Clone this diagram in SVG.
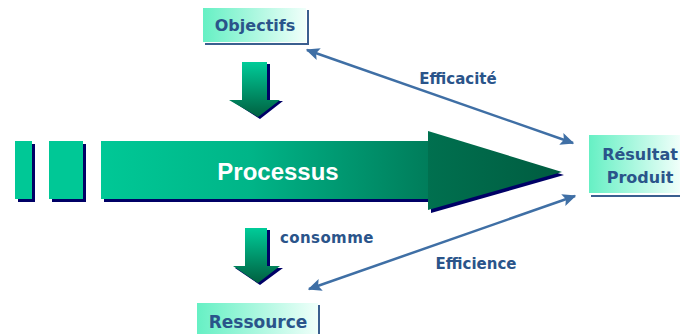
<svg xmlns="http://www.w3.org/2000/svg" width="680" height="334" viewBox="0 0 680 334">
<defs>
<linearGradient id="bodyG" x1="0" y1="0" x2="1" y2="0">
<stop offset="0" stop-color="#00c896"/>
<stop offset="0.45" stop-color="#00b588"/>
<stop offset="1" stop-color="#007c5a"/>
</linearGradient>
<linearGradient id="headG" x1="0" y1="0" x2="1" y2="0">
<stop offset="0" stop-color="#00704f"/>
<stop offset="1" stop-color="#005c40"/>
</linearGradient>
<linearGradient id="downG" x1="0" y1="0" x2="0" y2="1">
<stop offset="0" stop-color="#00cc99"/>
<stop offset="1" stop-color="#006040"/>
</linearGradient>
<linearGradient id="boxG" x1="0" y1="0" x2="1" y2="0">
<stop offset="0" stop-color="#66f0c4"/>
<stop offset="1" stop-color="#f0fffa"/>
</linearGradient>
<marker id="ah" viewBox="0 0 10 10" refX="9" refY="5" markerWidth="5.5" markerHeight="5.5" orient="auto-start-reverse" markerUnits="strokeWidth">
<path d="M0,0.5 L10,5 L0,9.5 L2,5 z" fill="#3f6fa5"/>
</marker>
</defs>
<style>
.lbl{font-family:"DejaVu Sans",Verdana,sans-serif;font-weight:bold;fill:#2a548a}
.conn{stroke:#3f6fa5;stroke-width:2.5;fill:none;marker-start:url(#ah);marker-end:url(#ah)}
.shadow{fill:#000066}
.edge{stroke:#3a5f8f;stroke-width:2;fill:none}
</style>
<rect width="680" height="334" fill="#ffffff"/>

<g id="process">
<rect class="shadow" x="18" y="144" width="17" height="58"/>
<rect x="15" y="141" width="17" height="58" fill="#00c896"/>
<rect class="shadow" x="52" y="144" width="34" height="58"/>
<rect x="49" y="141" width="34" height="58" fill="#00c896"/>
<path class="shadow" d="M104,144 L431,144 L431,134 L564,175 L431,213 L431,202 L104,202 z"/>
<rect x="101" y="141" width="330" height="58" fill="url(#bodyG)"/>
<path d="M428,131 L562,172 L428,210 z" fill="url(#headG)"/>
<text x="278" y="180" text-anchor="middle" font-family="Liberation Sans,Arial,sans-serif" font-weight="bold" font-size="24" fill="#ffffff">Processus</text>
</g>

<g id="objectifs">
<path class="edge" d="M205,44 L308,44 L308,10"/>
<rect x="203" y="8" width="103" height="34" fill="url(#boxG)"/>
<text class="lbl" x="255" y="31" text-anchor="middle" font-size="16">Objectifs</text>
</g>

<g id="arrow-down-1">
<path class="shadow" d="M245,64 L270,64 L270,101 L283,101 L260,119 L232,101 L245,101 z"/>
<path d="M242,62 L267,62 L267,100 L280,100 L258,117 L229,100 L242,100 z" fill="url(#downG)"/>
</g>

<g id="resultat">
<path class="edge" d="M591,196 L680,196"/>
<rect x="589" y="135" width="91" height="58" fill="url(#boxG)"/>
<text class="lbl" x="640" y="160" text-anchor="middle" font-size="16">Résultat</text>
<text class="lbl" x="640" y="183" text-anchor="middle" font-size="16">Produit</text>
</g>

<g id="arrow-down-2">
<path class="shadow" d="M247,230 L270,230 L270,268 L283,268 L260,285 L235,268 L247,268 z"/>
<path d="M245,228 L267,228 L267,266 L280,266 L258,283 L233,266 L245,266 z" fill="url(#downG)"/>
<text class="lbl" x="280" y="243" font-size="15" letter-spacing="0.4">consomme</text>
</g>

<g id="ressource">
<path class="edge" d="M319,305 L319,334"/>
<rect x="197" y="303" width="121" height="31" fill="url(#boxG)"/>
<text class="lbl" x="258" y="328" text-anchor="middle" font-size="17">Ressource</text>
</g>

<g id="connectors">
<line class="conn" x1="307" y1="50" x2="573" y2="143"/>
<text class="lbl" x="458" y="84" text-anchor="middle" font-size="15">Efficacité</text>
<line class="conn" x1="309" y1="289" x2="575" y2="196"/>
<text class="lbl" x="476" y="269" text-anchor="middle" font-size="15">Efficience</text>
</g>
</svg>
